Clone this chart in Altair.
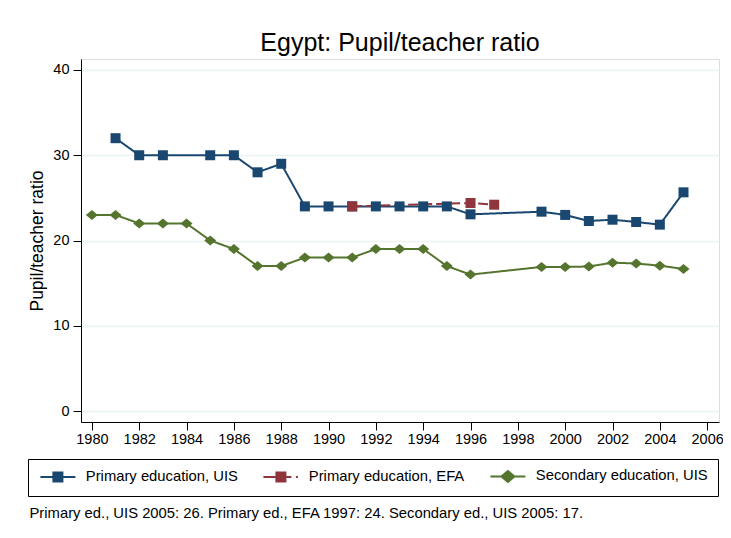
import altair as alt
import pandas as pd

# ---------------- data ----------------
series_names = ["Primary education, UIS", "Primary education, EFA", "Secondary education, UIS"]

primary_uis_years = [1981, 1982, 1983, 1985, 1986, 1987, 1988, 1989, 1990, 1991, 1992,
                     1993, 1994, 1995, 1996, 1999, 2000, 2001, 2002, 2003, 2004, 2005]
primary_uis_values = [32, 30, 30, 30, 30, 28, 29, 24, 24, 24, 24,
                      24, 24, 24, 23.07, 23.38, 23.0, 22.29, 22.44, 22.17, 21.86, 25.65]

primary_efa_years = [1991, 1996, 1997]
primary_efa_values = [24.0, 24.4, 24.2]

secondary_uis_years = [1980, 1981, 1982, 1983, 1984, 1985, 1986, 1987, 1988, 1989, 1990,
                       1991, 1992, 1993, 1994, 1995, 1996, 1999, 2000, 2001, 2002, 2003,
                       2004, 2005]
secondary_uis_values = [23, 23, 22, 22, 22, 20, 19, 17, 17, 18, 18,
                        18, 19, 19, 19, 17, 16, 16.9, 16.9, 16.95, 17.4, 17.3,
                        17.05, 16.66]

x_ticks = list(range(1980, 2007, 2))
y_ticks = [0, 10, 20, 30, 40]

title_text = "Egypt: Pupil/teacher ratio"
y_title = "Pupil/teacher ratio"
footnote = ("Primary ed., UIS 2005: 26. Primary ed., EFA 1997: 24. "
            "Secondary ed., UIS 2005: 17.")

colors = ["#1a476f", "#90353b", "#55752f"]
dashes = [[1, 0], [10, 4], [1, 0]]

# legend symbols: line + marker (unit coords, scaled by sqrt(size)/2)
legend_symbols = [
    "M-1,0H1.6M1.6,-0.9H3.4V0.9H1.6ZM3.4,0H6",
    "M-1,0H1.6M1.6,-0.9H3.4V0.9H1.6ZM3.4,0H4.6M5.5,0H5.9",
    "M-1,0H1.2M1.2,0L2.5,-1.1L3.8,0L2.5,1.1ZM3.8,0H6",
]

rows = []
for name, ys, vs in zip(series_names,
                        [primary_uis_years, primary_efa_years, secondary_uis_years],
                        [primary_uis_values, primary_efa_values, secondary_uis_values]):
    for yr, v in zip(ys, vs):
        rows.append({"series": name, "year": yr, "ratio": v})
df = pd.DataFrame(rows)

# colour / dash lookups keyed by name (data-driven domains are sorted alphabetically)
color_of = dict(zip(series_names, colors))
dash_of = dict(zip(series_names, dashes))
sorted_names = sorted(series_names)

FONT = "Liberation Sans"

x_enc = alt.X(
    "year:Q",
    scale=alt.Scale(domain=[1979.54, 2006.5], nice=False, zero=False),
    axis=alt.Axis(
        values=x_ticks, format="d", grid=False,
        tickSize=8, tickColor="black", domainColor="black",
        labelFontSize=14.5, labelColor="black", labelPadding=2,
        title=footnote, titleFontSize=14.8, titleFontWeight="normal",
        titleColor="black", titleAnchor="start", titleAlign="left",
        titleBaseline="middle", titleX=-52, titleY=91,
    ),
)
y_enc = alt.Y(
    "ratio:Q",
    scale=alt.Scale(domain=[-1.29, 41.29], nice=False, zero=False),
    axis=alt.Axis(
        values=y_ticks, grid=True, gridColor="#eaf2f3", gridWidth=1.5,
        tickSize=8, tickColor="black", domainColor="black",
        labelFontSize=14.5, labelColor="black", labelPadding=4,
        title=y_title, titleFontSize=17.5, titleFontWeight="normal",
        titleColor="black", titlePadding=6,
    ),
)

color_enc = alt.Color("series:N",
                      scale=alt.Scale(range=[color_of[n] for n in sorted_names]),
                      legend=None)

lines = alt.Chart(df).mark_line(strokeWidth=2).encode(
    x=x_enc, y=y_enc, color=color_enc,
    strokeDash=alt.StrokeDash("series:N",
                              scale=alt.Scale(range=[dash_of[n] for n in sorted_names]),
                              legend=None),
)

squares = alt.Chart(df).transform_filter(
    alt.FieldOneOfPredicate(field="series", oneOf=series_names[:2])
).mark_point(shape="square", filled=True, size=100, opacity=1, strokeWidth=1).encode(
    x=x_enc, y=y_enc, color=color_enc,
)

diamonds = alt.Chart(df).transform_filter(
    alt.FieldEqualPredicate(field="series", equal=series_names[2])
).mark_point(shape="M-1.2,0L0,-1L1.2,0L0,1Z", filled=True, size=100, opacity=1, strokeWidth=1).encode(
    x=x_enc, y=y_enc, color=color_enc,
)

leg = alt.Legend(
    title=None, orient="none", legendX=-53, legendY=400,
    direction="horizontal", columns=3, columnPadding=21,
    padding=10, strokeColor="black", fillColor="white",
    labelFontSize=14.8, labelColor="black", labelLimit=0, labelOffset=33,
    symbolSize=100, symbolStrokeWidth=2, symbolOpacity=1,
)

legend_layer = alt.Chart(df).mark_point(filled=True, opacity=0).encode(
    x=x_enc, y=y_enc,
    fill=alt.Fill("series:N", scale=alt.Scale(domain=series_names, range=colors), legend=leg),
    stroke=alt.Stroke("series:N", scale=alt.Scale(domain=series_names, range=colors), legend=leg),
    shape=alt.Shape("series:N", scale=alt.Scale(domain=series_names, range=legend_symbols), legend=leg),
)

chart = alt.layer(lines, squares, diamonds, legend_layer).properties(
    width=638, height=363,
    autosize=alt.AutoSizeParams(type="none"),
    padding={"left": 73, "top": 51, "right": 4, "bottom": 108},
    title=alt.Title(title_text, fontSize=25, fontWeight="normal", anchor="middle",
                    color="black", offset=7, dy=24, baseline="alphabetic"),
).configure_view(stroke=None).configure(font=FONT, background="white")

chart.save("out.html", embed_options={"renderer": "svg", "actions": False})
